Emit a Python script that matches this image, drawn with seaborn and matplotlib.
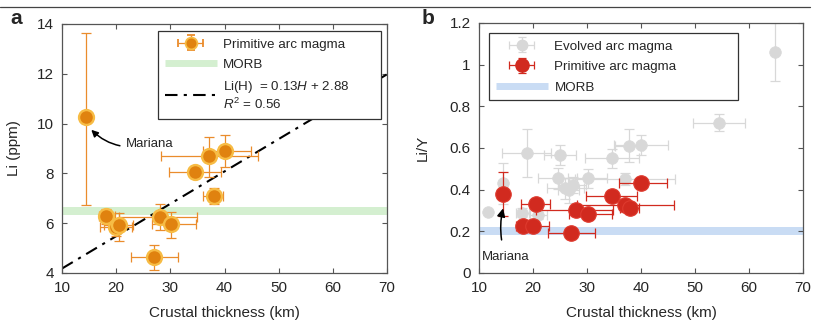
import numpy as np
import pandas as pd
import matplotlib
matplotlib.use("Agg")
import matplotlib.pyplot as plt
from matplotlib.lines import Line2D
from matplotlib.container import ErrorbarContainer
from matplotlib.legend_handler import HandlerErrorbar
import seaborn as sns

# ---- Primitive arc magmas (shared crustal thickness) ----
prim_H = [14.5, 18.2, 20.0, 20.6, 27.0, 28.0, 30.1, 34.6, 37.1, 38.0, 40.0]
prim_H_lo = [0.0, 1.3, 3.0, 2.8, 4.3, 7.4, 3.5, 4.8, 8.9, 1.9, 4.0]
prim_H_hi = [0.0, 1.5, 3.0, 2.5, 4.5, 6.9, 4.6, 4.7, 9.0, 1.7, 4.8]

prim_Li = [10.25, 6.28, 5.83, 5.92, 4.64, 6.24, 5.96, 8.05, 8.69, 7.10, 8.91]
prim_Li_lo = [3.50, 0.30, 0.35, 0.62, 0.51, 0.52, 0.54, 0.12, 0.82, 0.34, 0.64]
prim_Li_hi = [3.40, 0.30, 0.35, 0.50, 0.50, 0.55, 0.49, 0.12, 0.78, 0.32, 0.63]

prim_LiY = [0.379, 0.225, 0.225, 0.330, 0.190, 0.300, 0.285, 0.370, 0.326, 0.314, 0.433]
prim_LiY_lo = [0.106, 0.010, 0.010, 0.020, 0.010, 0.015, 0.012, 0.015, 0.015, 0.012, 0.015]
prim_LiY_hi = [0.107, 0.010, 0.010, 0.025, 0.010, 0.015, 0.012, 0.015, 0.015, 0.012, 0.015]

# ---- Evolved arc magmas ----
evol_H = [11.6, 14.5, 18.0, 21.0, 18.8, 25.0, 24.6, 26.0, 27.4, 26.6, 30.1, 34.6, 37.0, 37.8, 40.0, 54.5, 64.9]
evol_H_err = [0.0, 0.0, 1.2, 1.5, 4.5, 3.0, 3.6, 3.4, 2.5, 2.0, 3.6, 5.0, 9.2, 2.6, 5.0, 4.8, 0.0]
evol_LiY = [0.294, 0.430, 0.290, 0.280, 0.575, 0.566, 0.454, 0.407, 0.422, 0.398, 0.454, 0.550, 0.452, 0.611, 0.614, 0.722, 1.060]
evol_LiY_err = [0.0, 0.10, 0.02, 0.02, 0.115, 0.048, 0.05, 0.05, 0.04, 0.06, 0.045, 0.045, 0.03, 0.078, 0.05, 0.040, 0.140]

# MORB reference bands and regression
morb_Li = (6.33, 6.65)
morb_LiY = (0.181, 0.221)
fit_slope, fit_icpt = 0.13, 2.88
fit_H = [10, 70]

prim = pd.DataFrame({"H": prim_H, "Li": prim_Li, "LiY": prim_LiY})
evol = pd.DataFrame({"H": evol_H, "LiY": evol_LiY})

ORANGE_FACE = "#E0820F"
ORANGE_EDGE = "#F7BC45"
ORANGE_BAR = "#EA8C2C"
RED = "#D12A1F"
RED_EDGE = "#DE3A2E"
GRAY = "#D8D8D8"
GREEN_BAND = "#D4EFD0"
BLUE_BAND = "#C9DCF4"
FRAME = "#555555"
DASHDOT = (0, (6, 3, 1.5, 3))

sns.set_theme(style="ticks")
plt.rcParams["font.family"] = ["Liberation Sans", "DejaVu Sans"]
plt.rcParams["mathtext.fontset"] = "custom"
plt.rcParams["mathtext.it"] = "Liberation Sans:italic"
plt.rcParams["mathtext.rm"] = "Liberation Sans"

fig = plt.figure(figsize=(8.14, 3.22), dpi=100)
ax_a = fig.add_axes([0.0762, 0.1522, 0.3993, 0.7733])
ax_b = fig.add_axes([0.5885, 0.1522, 0.3980, 0.7764])

# thin rule along the top of the figure
fig.add_artist(Line2D([0, 0.995], [1 - 7 / 322] * 2, color="#444444", lw=0.9,
                      transform=fig.transFigure))

err_handler = {ErrorbarContainer: HandlerErrorbar(xerr_size=0.95, yerr_size=0.55)}
LEG_KW = dict(fontsize=9.6, frameon=True, fancybox=False, framealpha=1,
              edgecolor="#333333", handlelength=3.9, handleheight=0.9,
              borderpad=0.5, labelspacing=0.55, handletextpad=0.5,
              borderaxespad=0, mode="expand", handler_map=err_handler)


def style_axes(ax):
    for sp in ax.spines.values():
        sp.set_color(FRAME)
        sp.set_linewidth(0.9)
    ax.tick_params(direction="in", top=True, right=True, length=3.5, width=0.8,
                   color=FRAME, labelsize=11, pad=6)


# ---------------- panel a ----------------
ax = ax_a
ax.axhspan(*morb_Li, color=GREEN_BAND, lw=0, zorder=0.5)
fit_x = np.array(fit_H, dtype=float)
ax.plot(fit_x, fit_slope * fit_x + fit_icpt, color="black", lw=1.5, ls=DASHDOT, zorder=1.5)
ax.errorbar(prim_H, prim_Li, xerr=[prim_H_lo, prim_H_hi], yerr=[prim_Li_lo, prim_Li_hi],
            fmt="none", ecolor=ORANGE_BAR, elinewidth=0.9, capsize=3.5, capthick=0.9, zorder=2)
sns.scatterplot(data=prim, x="H", y="Li", ax=ax, s=115, color=ORANGE_FACE,
                edgecolor=ORANGE_EDGE, linewidth=1.7, legend=False, zorder=3)
ax.set_xlim(10, 70)
ax.set_ylim(4, 14)
ax.set_xticks(range(10, 71, 10))
ax.set_yticks(range(4, 15, 2))
ax.set_xlabel("Crustal thickness (km)", fontsize=11, labelpad=8)
ax.set_ylabel("Li (ppm)", fontsize=11, labelpad=11)
style_axes(ax)

ax.annotate("Mariana", xy=(15.4, 9.75), xytext=(21.8, 9.2), fontsize=9.5,
            va="center", ha="left",
            arrowprops=dict(arrowstyle="-|>", color="black", lw=1.1,
                            connectionstyle="arc3,rad=-0.3", shrinkA=2, shrinkB=0,
                            mutation_scale=10))

h_prim_a = ax.errorbar([np.nan], [np.nan], xerr=[1], yerr=[1], fmt="o", color=ORANGE_BAR,
                       mfc=ORANGE_FACE, mec=ORANGE_EDGE, ms=8.5, mew=1.3, elinewidth=0.9,
                       capsize=3, capthick=0.9)
h_morb_a = Line2D([], [], color=GREEN_BAND, lw=5, solid_capstyle="butt")
h_fit = Line2D([], [], color="black", lw=1.5, ls=DASHDOT)
leg = ax.legend([h_prim_a, h_morb_a, h_fit],
                ["Primitive arc magma", "MORB",
                 "Li(H)  = 0.13$\\it{H}$ + 2.88\n$\\it{R}^2$ = 0.56"],
                loc="upper left", bbox_to_anchor=(0.295, 0.6, 0.687, 0.372), **LEG_KW)
leg.get_frame().set_linewidth(0.9)
leg.set_zorder(5)

# ---------------- panel b ----------------
ax = ax_b
ax.axhspan(*morb_LiY, color=BLUE_BAND, lw=0, zorder=0.5)
ax.errorbar(evol_H, evol_LiY, xerr=evol_H_err, yerr=evol_LiY_err, fmt="none",
            ecolor=GRAY, elinewidth=0.9, capsize=3.5, capthick=0.9, zorder=1.8)
sns.scatterplot(data=evol, x="H", y="LiY", ax=ax, s=70, color=GRAY, edgecolor=GRAY,
                linewidth=0.5, legend=False, zorder=1.9)
ax.errorbar(prim_H, prim_LiY, xerr=[prim_H_lo, prim_H_hi], yerr=[prim_LiY_lo, prim_LiY_hi],
            fmt="none", ecolor=RED, elinewidth=0.9, capsize=3.5, capthick=0.9, zorder=2)
sns.scatterplot(data=prim, x="H", y="LiY", ax=ax, s=125, color=RED, edgecolor=RED_EDGE,
                linewidth=0.8, legend=False, zorder=3)
ax.set_xlim(10, 70)
ax.set_ylim(0, 1.2)
ax.set_xticks(range(10, 71, 10))
ax.set_yticks([0, 0.2, 0.4, 0.6, 0.8, 1.0, 1.2])
ax.set_yticklabels(["0", "0.2", "0.4", "0.6", "0.8", "1", "1.2"])
ax.set_xlabel("Crustal thickness (km)", fontsize=11, labelpad=8)
ax.set_ylabel("Li/Y", fontsize=11, labelpad=14)
style_axes(ax)

ax.annotate("Mariana", xy=(14.45, 0.31), xytext=(15.0, 0.075), fontsize=9.5,
            va="center", ha="center",
            arrowprops=dict(arrowstyle="-|>", color="black", lw=1.1,
                            connectionstyle="arc3,rad=-0.15", shrinkA=6, shrinkB=0,
                            mutation_scale=12))

h_evol = ax.errorbar([np.nan], [np.nan], xerr=[1], yerr=[1], fmt="o", color=GRAY,
                     mfc=GRAY, mec=GRAY, ms=7.5, elinewidth=0.9, capsize=3, capthick=0.9)
h_prim_b = ax.errorbar([np.nan], [np.nan], xerr=[1], yerr=[1], fmt="o", color=RED,
                       mfc=RED, mec=RED, ms=9.5, elinewidth=0.9, capsize=3, capthick=0.9)
h_morb_b = Line2D([], [], color=BLUE_BAND, lw=5, solid_capstyle="butt")
leg = ax.legend([h_evol, h_prim_b, h_morb_b],
                ["Evolved arc magma", "Primitive arc magma", "MORB"],
                loc="upper left", bbox_to_anchor=(0.031, 0.6, 0.769, 0.36), **LEG_KW)
leg.get_frame().set_linewidth(0.9)
leg.set_zorder(5)

# panel letters
fig.text(10 / 814, 1 - 19 / 322, "a", fontsize=15, fontweight="bold", va="center", ha="left")
fig.text(422 / 814, 1 - 19 / 322, "b", fontsize=15, fontweight="bold", va="center", ha="left")

fig.savefig("out.png", dpi=100)
